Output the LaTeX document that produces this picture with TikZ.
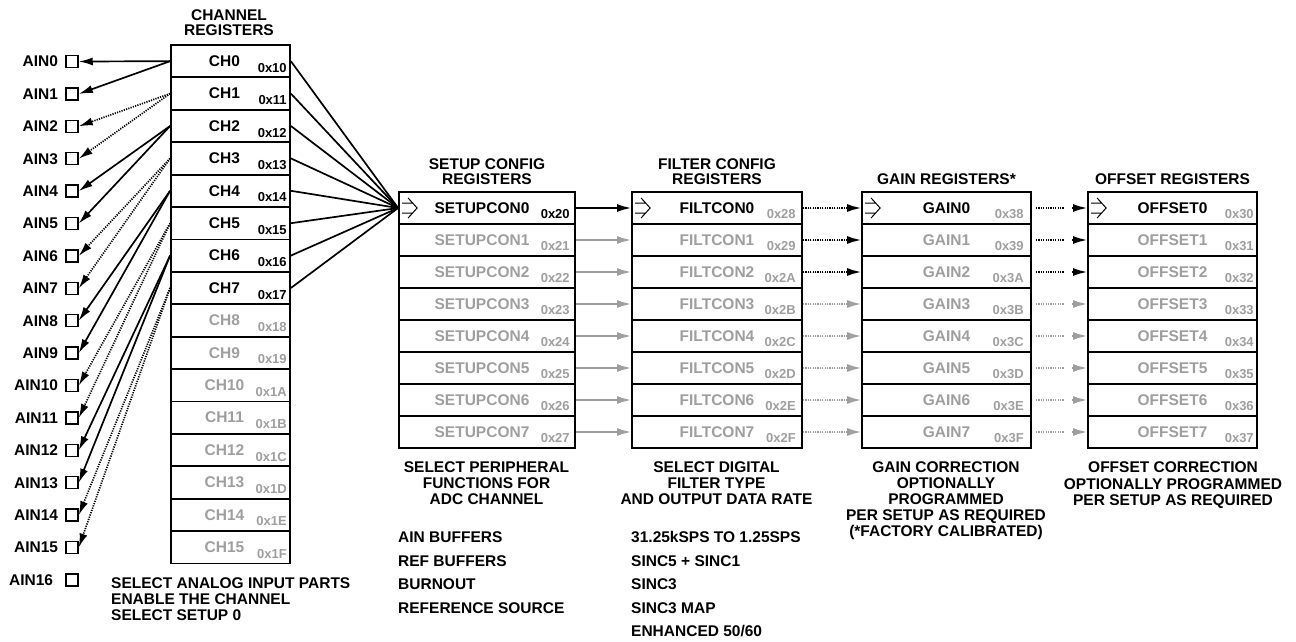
\documentclass[tikz,border=0pt]{standalone}
\usepackage{fontspec}
\setmainfont{Liberation Sans}
\usetikzlibrary{arrows.meta}

\definecolor{regGray}{HTML}{9E9E9E}

\tikzset{
  regrow/.style={draw, line width=1.8pt, minimum height=32pt, inner sep=0pt},
  lbl/.style={font=\bfseries\fontsize{15.5}{16}\selectfont, inner sep=0pt},
  addr/.style={font=\bfseries\fontsize{13}{13}\selectfont, inner sep=0pt, anchor=base east},
  headtxt/.style={font=\bfseries\fontsize{15.5}{15}\selectfont, align=center, inner sep=0pt, anchor=south},
  captxt/.style={font=\bfseries\fontsize{15.5}{15.8}\selectfont, align=center, inner sep=0pt, anchor=north},
  listtxt/.style={font=\bfseries\fontsize{15.5}{23.5}\selectfont, align=left, inner sep=0pt, anchor=north west},
  ainbox/.style={draw, line width=1.5pt, minimum size=12pt, inner sep=0pt},
  wire/.style={line width=1.7pt},
  arr/.style={-{Latex[length=14pt,width=8pt]}},
  dotline/.style={dash pattern=on 1.2pt off 1.2pt},
  hollowarr/.pic={
    \draw[line width=1pt] (0,-5) -- (10.5,-5) (6,-10) -- (15,0) -- (6,10) (0,5) -- (10.5,5);
  }
}

\begin{document}
\begin{tikzpicture}[x=1pt, y=-1pt]
  \useasboundingbox (0,0) rectangle (1296,642);

  % Channel registers
  \node[headtxt] (chhead) at (229,36) {CHANNEL\\REGISTERS};
  \foreach \i/\a in {0/10,1/11,2/12,3/13,4/14,5/15,6/16,7/17,8/18,9/19,10/1A,11/1B,12/1C,13/1D,14/1E,15/1F} {
    \ifnum\i<8 \def\col{black}\else\def\col{regGray}\fi
    \node[regrow, minimum width=119pt, minimum height=32.4pt] (ch\i) at (230.5,{61.2+32.4*\i}) {};
    \node[lbl, text=\col] (chl\i) at ([xshift=-6pt]ch\i.center) {CH\i};
    \node[addr, text=\col] (cha\i) at ([xshift=-4pt,yshift=6pt]ch\i.south east) {0x\a};
  }

  % Analog inputs
  \foreach \i in {0,...,16} {
    \ifnum\i=16 \def\gap{12pt}\else\def\gap{7pt}\fi
    \node[ainbox] (ain\i) at (72,{61.5+32.4*\i}) {};
    \node[lbl, anchor=east] (ainl\i) at ([xshift=-\gap]ain\i.west) {AIN\i};
  }

  % Setup config registers
  \node[headtxt] (suhead) at (487,185) {SETUP CONFIG\\REGISTERS};
  \foreach \i/\a in {0/20,1/21,2/22,3/23,4/24,5/25,6/26,7/27} {
    \ifnum\i=0 \def\col{black}\else\def\col{regGray}\fi
    \node[regrow, minimum width=176pt] (su\i) at (487,{208+32*\i}) {};
    \node[lbl, text=\col] (sul\i) at ([xshift=-5pt]su\i.center) {SETUPCON\i};
    \node[addr, text=\col] (sua\i) at ([xshift=-6pt,yshift=6pt]su\i.south east) {0x\a};
  }

  % Filter config registers
  \node[headtxt] (fchead) at (717,185) {FILTER CONFIG\\REGISTERS};
  \foreach \i/\a in {0/28,1/29,2/2A,3/2B,4/2C,5/2D,6/2E,7/2F} {
    \ifnum\i=0 \def\col{black}\else\def\col{regGray}\fi
    \node[regrow, minimum width=170pt] (fc\i) at (717,{208+32*\i}) {};
    \node[lbl, text=\col] (fcl\i) at (fc\i.center) {FILTCON\i};
    \node[addr, text=regGray] (fca\i) at ([xshift=-7pt,yshift=6pt]fc\i.south east) {0x\a};
  }

  % Gain registers
  \node[headtxt] (gnhead) at (946.5,185) {GAIN REGISTERS*};
  \foreach \i/\a in {0/38,1/39,2/3A,3/3B,4/3C,5/3D,6/3E,7/3F} {
    \ifnum\i=0 \def\col{black}\else\def\col{regGray}\fi
    \node[regrow, minimum width=169pt] (gn\i) at (946.5,{208+32*\i}) {};
    \node[lbl, text=\col] (gnl\i) at (gn\i.center) {GAIN\i};
    \node[addr, text=regGray] (gna\i) at ([xshift=-8pt,yshift=6pt]gn\i.south east) {0x\a};
  }

  % Offset registers
  \node[headtxt] (ofhead) at (1172.5,185) {OFFSET REGISTERS};
  \foreach \i/\a in {0/30,1/31,2/32,3/33,4/34,5/35,6/36,7/37} {
    \ifnum\i=0 \def\col{black}\else\def\col{regGray}\fi
    \node[regrow, minimum width=169pt] (of\i) at (1172.5,{208+32*\i}) {};
    \node[lbl, text=\col] (ofl\i) at (of\i.center) {OFFSET\i};
    \node[addr, text=regGray] (ofa\i) at ([xshift=-4pt,yshift=6pt]of\i.south east) {0x\a};
  }

  % Pointers in the first rows
  \foreach \r in {su0,fc0,gn0,of0}
    \pic at ([xshift=4pt]\r.west) {hollowarr};

  % Channels to inputs
  \foreach \c in {0,2,4,6} {
    \pgfmathtruncatemacro\pa{2*\c}
    \pgfmathtruncatemacro\pb{2*\c+1}
    \draw[wire, arr] (ch\c.west) -- (ain\pa.east);
    \draw[wire, arr] (ch\c.west) -- (ain\pb.east);
  }
  \foreach \c in {1,3,5,7} {
    \pgfmathtruncatemacro\pa{2*\c}
    \pgfmathtruncatemacro\pb{2*\c+1}
    \draw[wire, dotline, arr] (ch\c.west) -- (ain\pa.east);
    \draw[wire, dotline, arr] (ch\c.west) -- (ain\pb.east);
  }

  % Channels to setup 0
  \foreach \i in {0,...,7}
    \draw[wire] (ch\i.east) -- (su0.west);

  % Setup to filter
  \draw[wire, arr] (su0.east) -- (fc0.west);
  \foreach \i in {1,...,7}
    \draw[wire, arr, regGray] (su\i.east) -- (fc\i.west);

  % Filter to gain
  \foreach \i in {0,...,7} {
    \ifnum\i<3 \def\col{black}\else\def\col{regGray}\fi
    \draw[wire, dotline, arr, draw=\col, fill=\col] (fc\i.east) -- (gn\i.west);
  }

  % Gain to offset
  \foreach \i in {0,...,7} {
    \ifnum\i<3 \def\col{black}\else\def\col{regGray}\fi
    \draw[wire, dotline, draw=\col, shorten <=4pt, shorten >=23pt] (gn\i.east) -- (of\i.west);
    \draw[wire, arr, draw=\col, fill=\col, shorten <=40pt] (gn\i.east) -- (of\i.west);
  }

  % Notes
  \node[captxt, anchor=north west, align=left] (chnote) at (111,577.5) {SELECT ANALOG INPUT PARTS\\ENABLE THE CHANNEL\\SELECT SETUP 0};
  \node[captxt] (sunote) at (486.5,461.5) {SELECT PERIPHERAL\\FUNCTIONS FOR\\ADC CHANNEL};
  \node[listtxt] (sulist) at (398,531.5) {AIN BUFFERS\\REF BUFFERS\\BURNOUT\\REFERENCE SOURCE};
  \node[captxt] (fcnote) at (716.5,461.5) {SELECT DIGITAL\\FILTER TYPE\\AND OUTPUT DATA RATE};
  \node[listtxt] (fclist) at (631,531.5) {31.25kSPS TO 1.25SPS\\SINC5 + SINC1\\SINC3\\SINC3 MAP\\ENHANCED 50/60};
  \node[captxt, font=\bfseries\fontsize{15.5}{16}\selectfont] (gnnote) at (946,461.5) {GAIN CORRECTION\\OPTIONALLY\\PROGRAMMED\\PER SETUP AS REQUIRED\\(*FACTORY CALIBRATED)};
  \node[captxt, font=\bfseries\fontsize{15.5}{16.5}\selectfont] (ofnote) at (1173,461.5) {OFFSET CORRECTION\\OPTIONALLY PROGRAMMED\\PER SETUP AS REQUIRED};
\end{tikzpicture}
\end{document}
